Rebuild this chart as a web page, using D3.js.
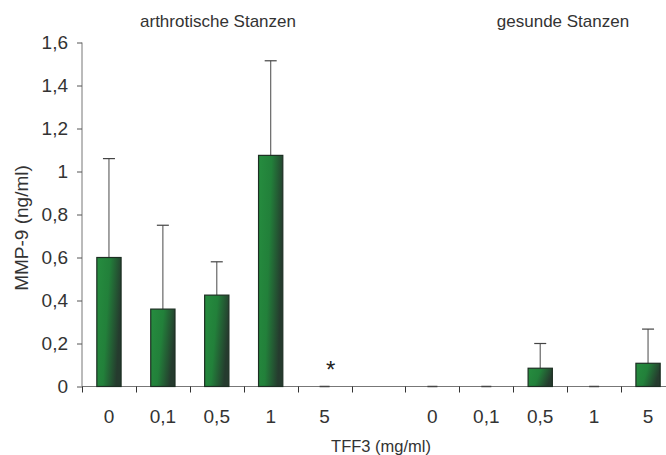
<!DOCTYPE html>
<html><head><meta charset="utf-8">
<script src="https://cdn.jsdelivr.net/npm/d3@7"></script>
<style>body{margin:0;background:#fff}svg{display:block;font-family:"Liberation Sans",Arial,sans-serif}</style>
</head><body>
<svg id="c" width="666" height="455"></svg>
<script>
const categories = ["0","0,1","0,5","1","5","","0","0,1","0,5","1","5"];
const groupIds = ["a0","a01","a05","a1","a5","gap","g0","g01","g05","g1","g5"];
const values = [0.60, 0.36, 0.425, 1.075, 0, null, 0, 0, 0.085, 0, 0.108];
const errors = [0.46, 0.39, 0.155, 0.44, 0, null, 0, 0, 0.115, 0, 0.159];
const yTicks = [0, 0.2, 0.4, 0.6, 0.8, 1, 1.2, 1.4, 1.6];
const groupTitles = ["arthrotische Stanzen", "gesunde Stanzen"];
const significance = ["", "", "", "", "*", "", "", "", "", "", ""];

const svg = d3.select("#c");
const x = d3.scaleBand().domain(groupIds).range([82, 675]).paddingInner(0).paddingOuter(0);
const y = d3.scaleLinear().domain([0, 1.6]).range([386.5, 42.5]);
const fmt = d => String(d).replace(".", ",");

const defs = svg.append("defs");
const g = defs.append("linearGradient").attr("id","gr").attr("x1","0").attr("x2","1").attr("y1","0").attr("y2","0.3");
g.append("stop").attr("offset","0").attr("stop-color","#268d3f");
g.append("stop").attr("offset","0.5").attr("stop-color","#22803a");
g.append("stop").attr("offset","1").attr("stop-color","#253b2e");

// y axis
const yAx = svg.append("g").attr("transform","translate(82,0)")
  .call(d3.axisLeft(y).tickValues(yTicks).tickFormat(fmt).tickSize(5).tickPadding(9));
yAx.select(".domain").attr("stroke","#777").attr("d","M0,"+y(1.6)+"V"+y(0));
yAx.selectAll(".tick line").attr("stroke","#555");
yAx.selectAll(".tick text").attr("font-size","19px").attr("fill","#333").attr("font-family","Liberation Sans, Arial, sans-serif");

// x axis
const bw = x.bandwidth()*0.45;
const barData = groupIds.map((id,i)=>({id, cat:categories[i], v:values[i], e:errors[i], s:significance[i]})).filter(d=>d.v!==null);

svg.append("line").attr("x1",82).attr("x2",675).attr("y1",y(0)).attr("y2",y(0)).attr("stroke","#777").attr("stroke-width",1);
svg.selectAll(".xt").data(groupIds.slice(1)).enter().append("line")
  .attr("x1",d=>Math.round(x(d))+0.5).attr("x2",d=>Math.round(x(d))+0.5)
  .attr("y1",y(0)).attr("y2",y(0)+6).attr("stroke","#333");
svg.append("line").attr("x1",82.5).attr("x2",82.5).attr("y1",y(0)).attr("y2",y(0)+6).attr("stroke","#333");

svg.selectAll(".xl").data(barData).enter().append("text")
  .attr("x",d=>x(d.id)+x.bandwidth()/2).attr("y",423)
  .attr("text-anchor","middle").attr("font-size","19px").attr("fill","#333").text(d=>d.cat);

// error bars
const eb = svg.selectAll(".eb").data(barData.filter(d=>d.e>0)).enter().append("g");
eb.append("line").attr("x1",d=>x(d.id)+x.bandwidth()/2).attr("x2",d=>x(d.id)+x.bandwidth()/2)
  .attr("y1",d=>y(d.v)).attr("y2",d=>y(d.v+d.e)).attr("stroke","#666").attr("stroke-width",1.2);
eb.append("line").attr("x1",d=>x(d.id)+x.bandwidth()/2-6).attr("x2",d=>x(d.id)+x.bandwidth()/2+6)
  .attr("y1",d=>y(d.v+d.e)).attr("y2",d=>y(d.v+d.e)).attr("stroke","#444").attr("stroke-width",1.2);

// bars
svg.selectAll(".bar").data(barData.filter(d=>d.v>0)).enter().append("rect")
  .attr("x",d=>x(d.id)+x.bandwidth()/2-bw/2).attr("width",bw)
  .attr("y",d=>y(d.v)).attr("height",d=>y(0)-y(d.v))
  .attr("fill","url(#gr)").attr("stroke","#1c2e22").attr("stroke-width",1.2);
// zero-value markers
svg.selectAll(".zb").data(barData.filter(d=>d.v===0)).enter().append("line")
  .attr("x1",d=>x(d.id)+x.bandwidth()/2-5).attr("x2",d=>x(d.id)+x.bandwidth()/2+5)
  .attr("y1",y(0)).attr("y2",y(0)).attr("stroke","#444").attr("stroke-width",1.5);

// significance
svg.selectAll(".sig").data(barData.filter(d=>d.s)).enter().append("text")
  .attr("x",d=>x(d.id)+x.bandwidth()/2+6).attr("y",y(0)-8.5)
  .attr("text-anchor","middle").attr("font-size","24px").attr("fill","#222").text(d=>d.s);

// group titles
svg.append("text").attr("x",218).attr("y",27).attr("text-anchor","middle").attr("font-size","17px").attr("fill","#333").text(groupTitles[0]);
svg.append("text").attr("x",563).attr("y",27).attr("text-anchor","middle").attr("font-size","17px").attr("fill","#333").text(groupTitles[1]);

// axis titles
svg.append("text").attr("x",381).attr("y",452).attr("text-anchor","middle").attr("font-size","16.5px").attr("fill","#333").text("TFF3 (mg/ml)");
svg.append("text").attr("transform","translate(28,228) rotate(-90)").attr("text-anchor","middle").attr("font-size","19px").attr("fill","#333").text("MMP-9 (ng/ml)");
</script>
</body></html>
